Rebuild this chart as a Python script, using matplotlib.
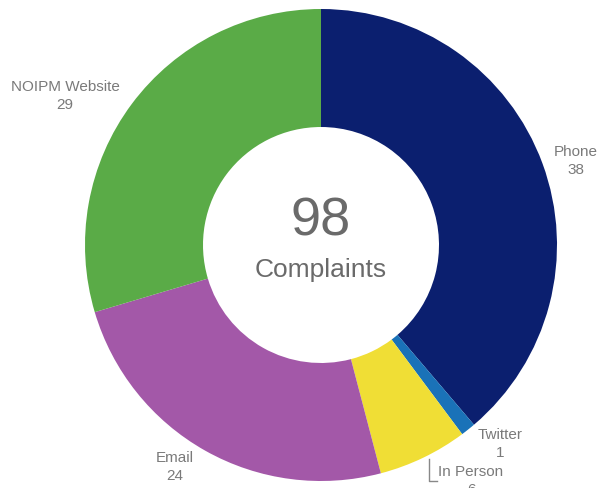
import matplotlib
matplotlib.use("Agg")
import matplotlib.pyplot as plt

# data
channels = ["Phone", "Twitter", "In Person", "Email", "NOIPM Website"]
counts = [38, 1, 6, 24, 29]
colors = ["#0b1f6f", "#1a72b8", "#f0de35", "#a358a8", "#5aab47"]
total_label = "Complaints"

plt.rcParams["font.family"] = ["Liberation Sans", "DejaVu Sans"]

fig = plt.figure(figsize=(6, 4.89), dpi=100)
ax = fig.add_axes([0, 0, 1, 1])

cx, cy, r = 321, 246, 236
# y axis is inverted below, so startangle=-90 is 12 o'clock and the pie runs clockwise
wedges, _ = ax.pie(counts, colors=colors, startangle=-90, counterclock=True,
                   radius=r, center=(cx, cy),
                   wedgeprops=dict(width=118, linewidth=0))
ax.set_xlim(0, 600)
ax.set_ylim(489, 0)
ax.set_aspect("equal")
ax.axis("off")

txt = "#7a7a7a"
fs = 11
ax.text(cx, 221, str(sum(counts)), ha="center", va="center", fontsize=39, color="#6a6a6a")
ax.text(cx, 270, total_label, ha="center", va="center", fontsize=19, color="#6a6a6a")

label_pos = {
    "Phone": (576, 161),
    "Twitter": (500, 444),
    "In Person": (471, 481),
    "Email": (175, 467),
    "NOIPM Website": (65, 96),
}
for name, n in zip(channels, counts):
    x, y = label_pos[name]
    ax.text(x, y, f"{name}\n{n}", ha="center", va="center", fontsize=fs,
            color=txt, linespacing=1.45)

# leader line for In Person
ax.plot([429, 429, 437], [460, 482, 482], color="#888888", lw=1)

fig.savefig("out.png", dpi=100)
